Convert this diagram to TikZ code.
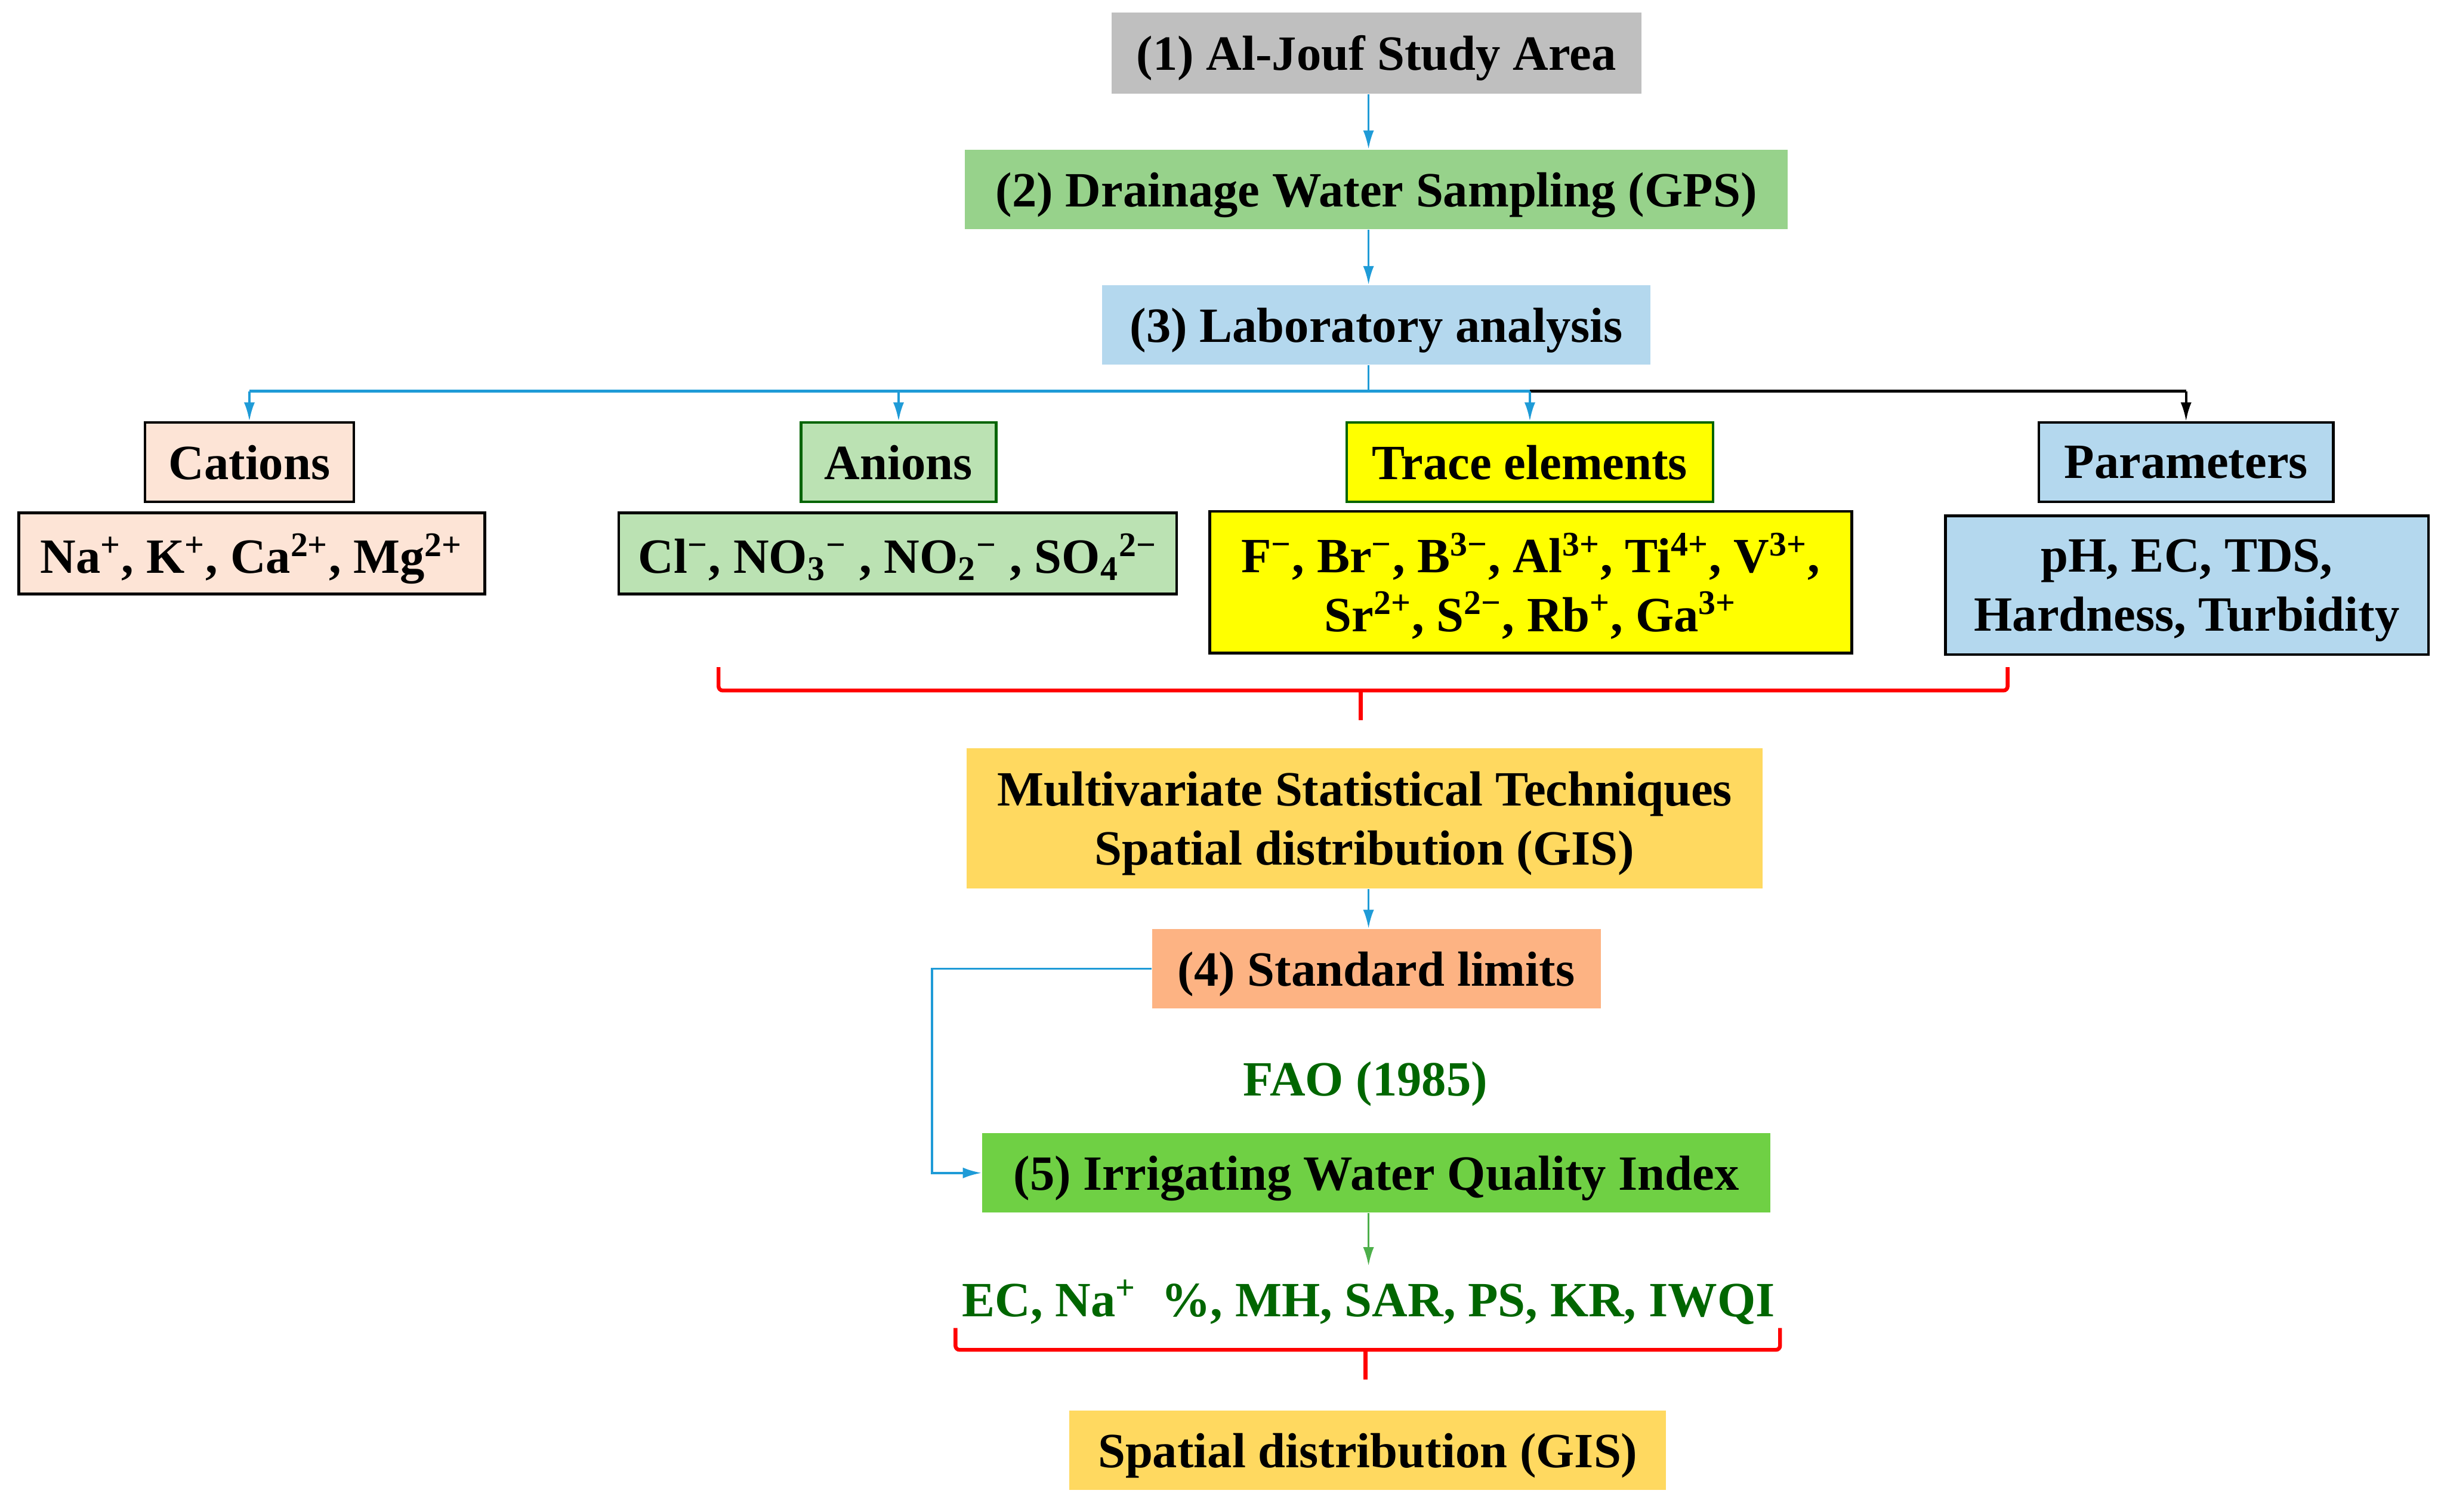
\documentclass[tikz,border=0pt]{standalone}
\usepackage{fontspec}
\setmainfont{Liberation Serif}
\usetikzlibrary{positioning,arrows.meta}
\definecolor{areagray}{HTML}{BFBFBF}
\definecolor{samplegreen}{HTML}{97D28B}
\definecolor{labblue}{HTML}{B4D8EE}
\definecolor{cationpeach}{HTML}{FDE4D6}
\definecolor{anionmint}{HTML}{BBE2B3}
\definecolor{traceyellow}{HTML}{FFFF00}
\definecolor{gisgold}{HTML}{FFD960}
\definecolor{limitorange}{HTML}{FDB383}
\definecolor{indexgreen}{HTML}{6FD044}
\definecolor{textgreen}{HTML}{006600}
\definecolor{framegreen}{HTML}{006400}
\definecolor{linkblue}{HTML}{1F9BD7}
\definecolor{arrowgreen}{HTML}{4DAF4A}
\tikzset{
    flow/.style={font=\bfseries\fontsize{18}{21.5}\selectfont,align=center,inner sep=2pt,text depth=0pt},
    fillbox/.style={flow,fill=#1},
    linebox/.style={flow,fill=#1,draw=black,line width=1pt},
    link/.style={draw=linkblue,line width=0.8pt,-{Latex[length=2.4mm,width=1.4mm]}},
    brace/.style={draw=red,line width=1.4pt,rounded corners=1.5pt},
}
\begin{document}
\begin{tikzpicture}[x=0.02cm,y=-0.02cm]
    \useasboundingbox (0,0) rectangle (1568,970);
    \coordinate (axis) at (878,0);
    % main column
    \node[fillbox=areagray,minimum width=6.8cm,minimum height=1.04cm] (area) at (883,34) {(1) Al-Jouf Study Area};
    \node[fillbox=samplegreen,minimum width=10.56cm,minimum height=1.02cm] (samp) at (883,121.5) {(2) Drainage Water Sampling (GPS)};
    \node[fillbox=labblue,minimum width=7.04cm,minimum height=1.02cm] (lab) at (883,208.5) {(3) Laboratory analysis};
    % analysed groups
    \node[linebox=cationpeach,minimum width=2.68cm,minimum height=1.02cm] (cat) at (160,296.5) {Cations};
    \node[linebox=cationpeach,minimum width=5.98cm,minimum height=1.04cm] (catlist) at (161.5,355) {Na\textsuperscript{+}, K\textsuperscript{+}, Ca\textsuperscript{2+}, Mg\textsuperscript{2+}};
    \node[linebox=anionmint,draw=framegreen,minimum width=2.5cm,minimum height=1.02cm] (an) at (576.5,296.5) {Anions};
    \node[linebox=anionmint,minimum width=7.16cm,minimum height=1.04cm] (anlist) at (576,355) {Cl\textsuperscript{−}, NO\textsubscript{3}\textsuperscript{−} , NO\textsubscript{2}\textsuperscript{−} , SO\textsubscript{4}\textsuperscript{2−}};
    \node[linebox=traceyellow,draw=framegreen,minimum width=4.7cm,minimum height=1.02cm] (trace) at (981.5,296.5) {Trace elements};
    \node[linebox=traceyellow,minimum width=8.24cm,minimum height=1.82cm] (tracelist) at (982,373.5) {F\textsuperscript{−}, Br\textsuperscript{−}, B\textsuperscript{3−}, Al\textsuperscript{3+}, Ti\textsuperscript{4+}, V\textsuperscript{3+},\\Sr\textsuperscript{2+}, S\textsuperscript{2−}, Rb\textsuperscript{+}, Ga\textsuperscript{3+}};
    \node[linebox=labblue,minimum width=3.78cm,minimum height=1.02cm] (par) at (1402.5,296.5) {Parameters};
    \node[linebox=labblue,minimum width=6.2cm,minimum height=1.78cm] (parlist) at (1403,375.5) {pH, EC, TDS,\\Hardness, Turbidity};
    % evaluation
    \node[fillbox=gisgold,minimum width=10.22cm,minimum height=1.8cm] (mst) at (875.5,525) {Multivariate Statistical Techniques\\Spatial distribution (GIS)};
    \node[fillbox=limitorange,minimum width=5.76cm,minimum height=1.02cm] (std) at (883,621.5) {(4) Standard limits};
    \node[flow,text=textgreen] (fao) at (876,692) {FAO (1985)};
    \node[fillbox=indexgreen,minimum width=10.12cm,minimum height=1.02cm] (iwqi) at (883,752.5) {(5) Irrigating Water Quality Index};
    \node[flow,text=textgreen,inner sep=5pt] (idx) at (878,833) {EC, Na\textsuperscript{+}\ \ \%, MH, SAR, PS, KR, IWQI};
    \node[fillbox=gisgold,minimum width=7.66cm,minimum height=1.02cm] (gis) at (877.5,930.5) {Spatial distribution (GIS)};
    % connectors
    \coordinate (bus) at (878,251);
    \coordinate (elbow) at (598,621.5);
    \draw[link] (area.south -| axis) -- (samp.north -| axis);
    \draw[link] (samp.south -| axis) -- (lab.north -| axis);
    \draw[draw=linkblue,line width=0.8pt] (lab.south -| axis) -- (bus);
    \draw[draw=linkblue,line width=1.2pt] (cat.north |- bus) -- (trace.north |- bus);
    \draw[line width=1.2pt] (trace.north |- bus) -- (par.north |- bus);
    \draw[link] (cat.north |- bus) -- (cat.north);
    \draw[link] (an.north |- bus) -- (an.north);
    \draw[link] (trace.north |- bus) -- (trace.north);
    \draw[link,draw=black] (par.north |- bus) -- (par.north);
    \draw[link] (mst.south -| axis) -- (std.north -| axis);
    \draw[link] (std.west) -- (elbow) |- (iwqi.west);
    \draw[link,draw=arrowgreen] (iwqi.south -| axis) -- (idx.north -| axis);
    % braces
    \draw[brace] (461,428) -- (461,443) -- (1288,443) -- (1288,428);
    \draw[brace] (873,443) -- (873,462);
    \draw[brace] (613,852) -- (613,866) -- (1142,866) -- (1142,852);
    \draw[brace] (876,866) -- (876,885);
\end{tikzpicture}
\end{document}
